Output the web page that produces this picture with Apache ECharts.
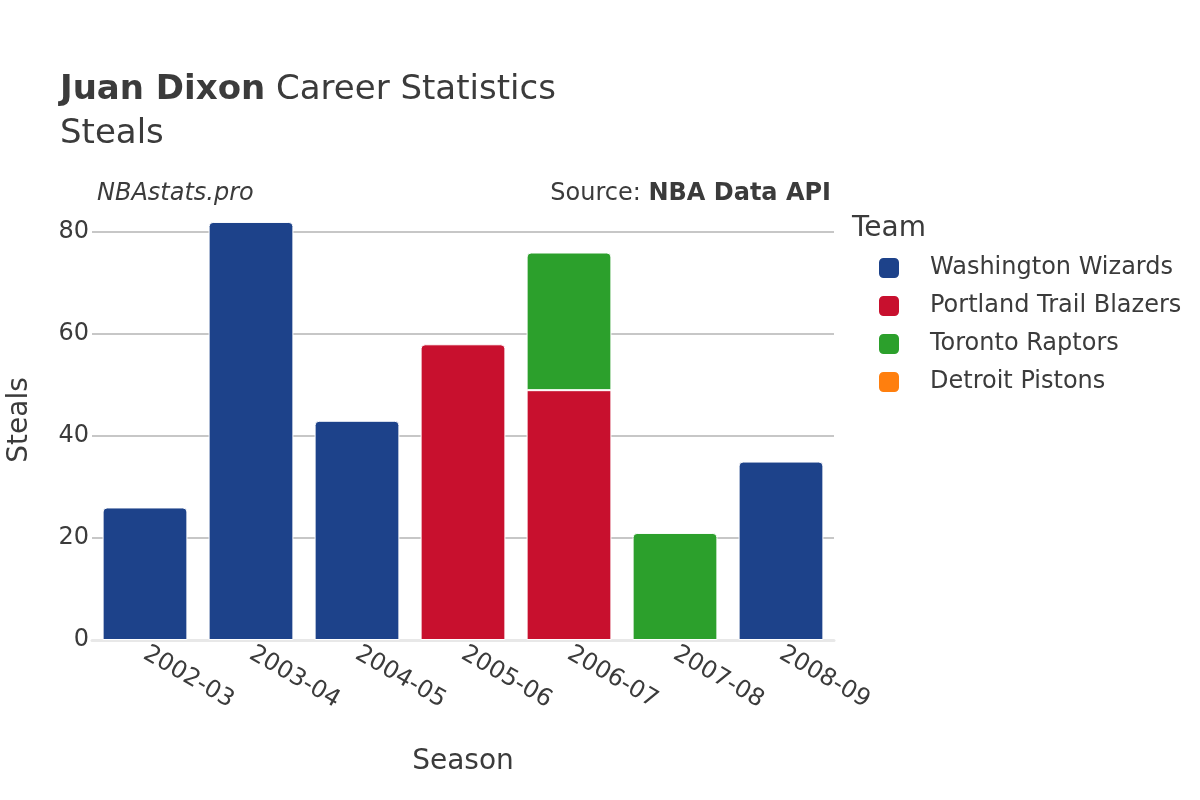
<!DOCTYPE html>
<html>
<head>
<meta charset="utf-8">
<script src="https://cdn.jsdelivr.net/npm/echarts@6/dist/echarts.min.js"></script>
<style>html,body{margin:0;padding:0;background:#fff}#c{width:1200px;height:800px}</style>
</head>
<body>
<div id="c"></div>
<script>
const seasons = ['2002-03','2003-04','2004-05','2005-06','2006-07','2007-08','2008-09'];
const teams = ['Washington Wizards','Portland Trail Blazers','Toronto Raptors','Detroit Pistons'];
const washington = [26, 82, 43, null, null, null, 35];
const portland   = [null, null, null, 58, 49, null, null];
const toronto    = [null, null, null, null, 27, 21, null];
const detroit    = [null, null, null, null, null, null, null];
const yTicks = [0, 20, 40, 60, 80];
const teamColors = ['#1D428A', '#C8102E', '#2CA02C', '#FF7F0E'];

const allData = [washington, portland, toronto, detroit];
const font = 'DejaVu Sans';
const textColor = '#3b3b3b';

const series = allData.map((arr, si) => ({
  name: teams[si],
  type: 'bar',
  stack: 'total',
  barCategoryGap: '20%',
  itemStyle: { color: teamColors[si], borderColor: '#fff', borderWidth: 1 },
  data: arr.map((v, i) => {
    if (v == null) return null;
    let isTop = true;
    for (let k = si + 1; k < allData.length; k++) if (allData[k][i] != null) isTop = false;
    return { value: v, itemStyle: { borderRadius: isTop ? [4, 4, 0, 0] : 0 } };
  })
}));

const chart = echarts.init(document.getElementById('c'), null, { renderer: 'canvas' });
chart.setOption({
  animation: false,
  backgroundColor: '#fff',
  textStyle: { fontFamily: font },
  grid: { left: 92, right: 366, top: 200, bottom: 160, containLabel: false, outerBoundsMode: 'none' },
  graphic: [
    { type: 'text', left: 60, top: 73, style: { rich: { b: { fontFamily: font, fontWeight: 'bold', fontSize: 34, fill: textColor }, n: { fontFamily: font, fontSize: 34, fill: textColor } }, text: '{b|Juan Dixon}{n| Career Statistics}' } },
    { type: 'text', left: 60, top: 117, style: { text: 'Steals', fontFamily: font, fontSize: 34, fill: textColor } },
    { type: 'text', left: 97, top: 182, style: { text: 'NBAstats.pro', fontFamily: font, fontStyle: 'italic', fontSize: 24, fill: textColor } },
    { type: 'text', right: 1200 - 831, top: 182, style: { rich: { n: { fontFamily: font, fontSize: 24, fill: textColor }, b: { fontFamily: font, fontSize: 24, fontWeight: 'bold', fill: textColor } }, text: '{n|Source: }{b|NBA Data API}' } },
    { type: 'text', left: 852, top: 215, style: { text: 'Team', fontFamily: font, fontSize: 28, fill: textColor } }
  ],
  legend: {
    orient: 'vertical',
    left: 877, top: 256,
    padding: 0,
    itemWidth: 22, itemHeight: 22, itemGap: 14,
    icon: 'roundRect',
    data: teams,
    textStyle: { fontFamily: font, fontSize: 24, color: textColor, padding: [0, 0, 0, 25] }
  },
  xAxis: {
    type: 'category',
    data: seasons,
    name: 'Season',
    nameLocation: 'middle',
    nameGap: 108,
    nameTextStyle: { fontFamily: font, fontSize: 28, color: textColor },
    axisLine: { show: true, lineStyle: { color: '#e8e8e8', width: 3 } },
    axisTick: { show: false },
    axisLabel: { rotate: -30, fontFamily: font, fontSize: 24, color: textColor, margin: 12, interval: 0 }
  },
  yAxis: {
    type: 'value',
    min: 0, max: 86.3, interval: 20,
    name: 'Steals',
    nameLocation: 'middle',
    nameGap: 58,
    nameTextStyle: { fontFamily: font, fontSize: 28, color: textColor },
    axisLine: { show: false },
    axisTick: { show: false },
    axisLabel: { fontFamily: font, fontSize: 24, color: textColor, margin: 3, showMaxLabel: false,
      formatter: v => yTicks.includes(v) ? String(v) : '' },
    splitLine: { show: true, showMaxLine: false, showMinLine: false, lineStyle: { color: '#b4b4b4', width: 1.5 } }
  },
  series: series
});
</script>
</body>
</html>
